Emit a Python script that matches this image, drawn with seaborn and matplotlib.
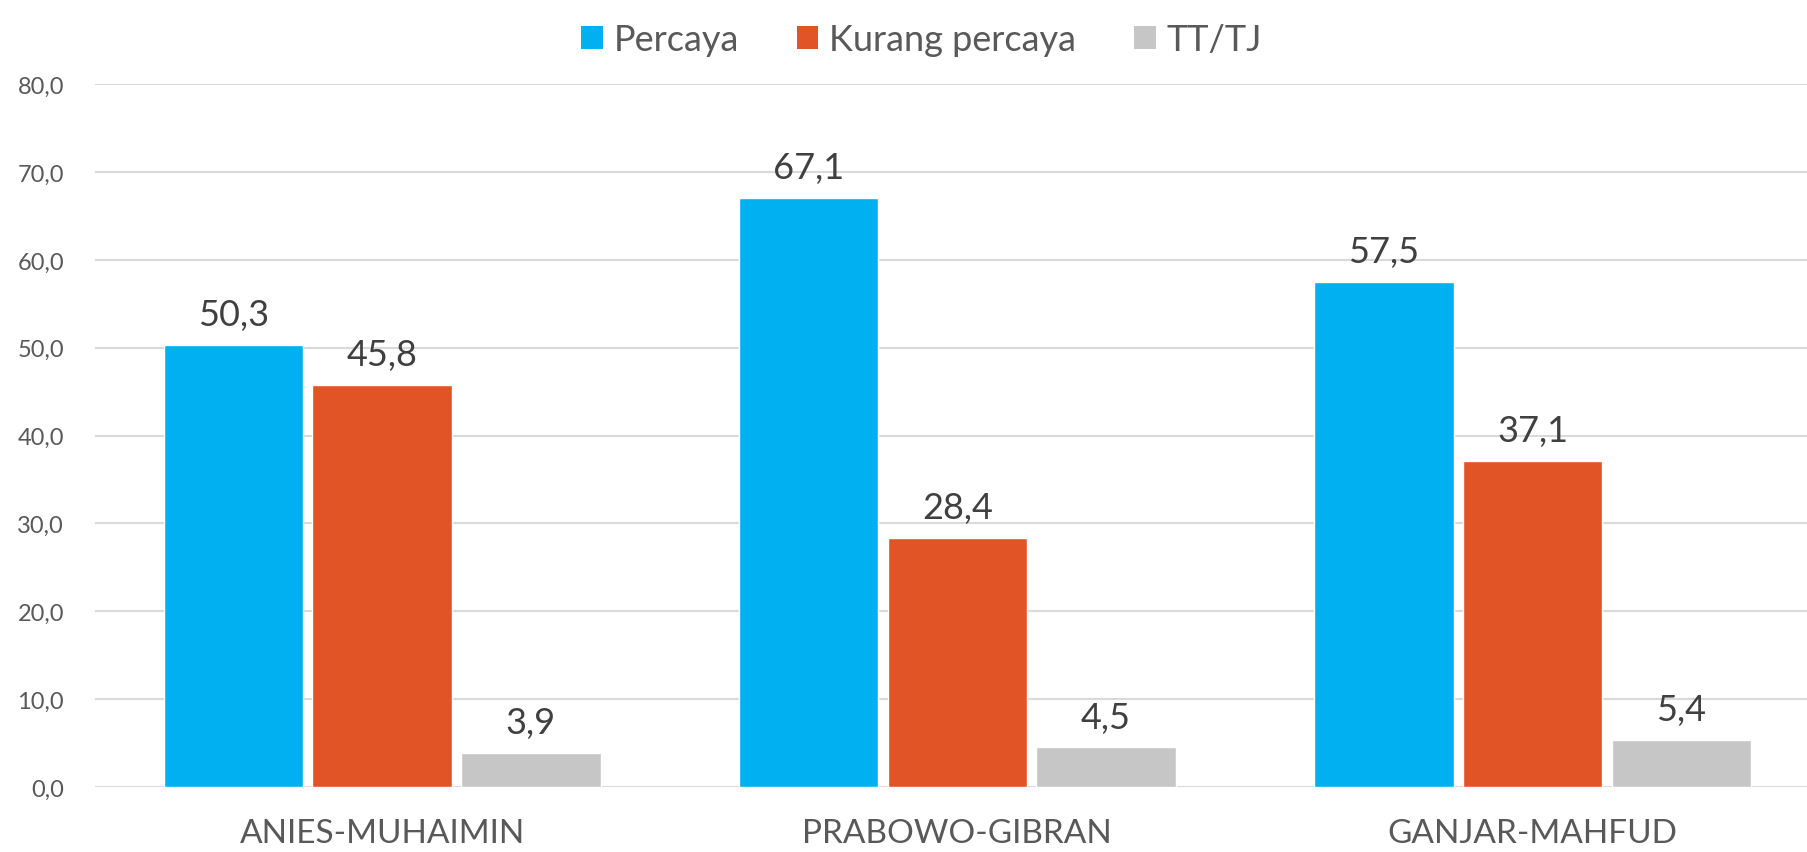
import matplotlib
matplotlib.use("Agg")
import matplotlib.pyplot as plt
import seaborn as sns
import pandas as pd
from matplotlib.patches import Patch

categories = ["ANIES-MUHAIMIN", "PRABOWO-GIBRAN", "GANJAR-MAHFUD"]
series_names = ["Percaya", "Kurang percaya", "TT/TJ"]
percaya = [50.3, 67.1, 57.5]
kurang = [45.8, 28.4, 37.1]
ttj = [3.9, 4.5, 5.4]
yticks = [0, 10, 20, 30, 40, 50, 60, 70, 80]
colors = ["#00B0F0", "#E05426", "#C6C6C6"]

rows = []
for s, vals in zip(series_names, [percaya, kurang, ttj]):
    for c, v in zip(categories, vals):
        rows.append({"cat": c, "series": s, "val": v})
df = pd.DataFrame(rows)

sns.set_theme(style="white")
plt.rcParams["font.family"] = ["Lato", "DejaVu Sans"]

fig = plt.figure(figsize=(18.07, 8.53), dpi=100)
ax = fig.add_axes([0.0523, 0.0762, 0.955, 0.8238])

sns.barplot(data=df, x="cat", y="val", hue="series", order=categories,
            hue_order=series_names, palette=colors, width=0.7756, gap=0.062,
            ax=ax, legend=False, saturation=1, errorbar=None)

ax.set_ylim(0, 80)
ax.set_yticks(yticks)
ax.set_yticklabels([f"{t:.1f}".replace(".", ",") for t in yticks],
                   fontsize=17, color="#595959")
ax.set_xticks(range(len(categories)))
ax.set_xticklabels(categories, fontsize=24, color="#595959")
ax.tick_params(axis="x", length=0, pad=22)
ax.tick_params(axis="y", length=0, pad=22)
ax.set_xlabel("")
ax.set_ylabel("")
ax.yaxis.grid(True, color="#D9D9D9", linewidth=1.5)
ax.set_axisbelow(True)
for sp in ax.spines.values():
    sp.set_visible(False)

for cont in ax.containers:
    ax.bar_label(cont, labels=[f"{v:.1f}".replace(".", ",") for v in cont.datavalues],
                 padding=10, fontsize=26, color="#404040")

handles = [Patch(facecolor=c, edgecolor="none") for c in colors]
fig.legend(handles, series_names, loc="upper center", bbox_to_anchor=(0.51, 1.01),
           ncol=3, frameon=False, fontsize=26, handlelength=0.6, handleheight=0.6,
           handletextpad=0.3, columnspacing=1.6, labelcolor="#595959")

fig.savefig("out.png", dpi=100)
